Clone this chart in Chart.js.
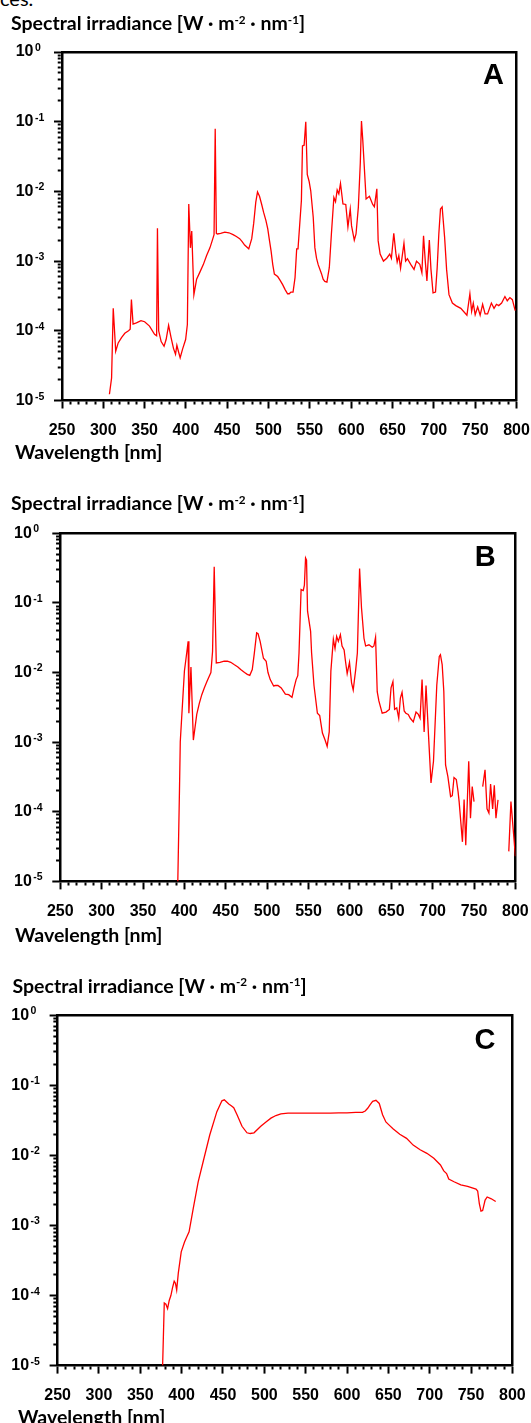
<!DOCTYPE html>
<html>
<head>
<meta charset="utf-8">
<script src="https://cdn.jsdelivr.net/npm/chart.js@4.4.0/dist/chart.umd.min.js"></script>
<style>
  html, body { margin: 0; padding: 0; background: #fff; overflow: hidden; }
  body { width: 531px; height: 1423px; position: relative; }
  .panel { position: absolute; left: 0; width: 531px; height: 480px; }
  .letter { position: absolute; font: bold 29px "Liberation Sans", Arial, sans-serif; line-height: 1; color: #000; }
  .axis-title { position: absolute; font: bold 19.5px Lato, sans-serif; line-height: 1.2; color: #000; white-space: nowrap; }
  .axis-title sup { font-size: 0.6em; vertical-align: 0; position: relative; top: -0.55em; }
  #snippet { position: absolute; left: 0; top: -12px; font: 20px Lato, sans-serif; line-height: 20px; color: #000; }
</style>
</head>
<body>
<div id="snippet">ces.</div>
<div class="panel" style="top:0px"><canvas id="chart-a" width="531" height="480"></canvas></div>
<div class="panel" style="top:478px"><canvas id="chart-b" width="531" height="480"></canvas></div>
<div class="panel" style="top:962px"><canvas id="chart-c" width="531" height="480"></canvas></div>

<div class="axis-title" style="left:11px; top:11.4px">Spectral irradiance [W · m<sup>-2</sup> · nm<sup>-1</sup>]</div>
<div class="axis-title" style="left:15px; top:439.7px">Wavelength [nm]</div>
<div class="axis-title" style="left:11px; top:491.4px">Spectral irradiance [W · m<sup>-2</sup> · nm<sup>-1</sup>]</div>
<div class="axis-title" style="left:15px; top:922.7px">Wavelength [nm]</div>
<div class="axis-title" style="left:12.5px; top:973.7px">Spectral irradiance [W · m<sup>-2</sup> · nm<sup>-1</sup>]</div>
<div class="axis-title" style="left:18px; top:1404.7px">Wavelength [nm]</div>

<div class="letter" style="left:483px; top:59.5px">A</div>
<div class="letter" style="left:474.7px; top:542.2px">B</div>
<div class="letter" style="left:474.4px; top:1025.4px">C</div>

<script>
// ticks
const xLabelTicks = [250, 300, 350, 400, 450, 500, 550, 600, 650, 700, 750, 800];
const xMinorStep = 10;
const yDecades = [-5, -4, -3, -2, -1, 0];
const yExponents = ['-5', '-4', '-3', '-2', '-1', '0'];

// panel A
const wavelengthA = [307.4, 310, 312, 315, 318, 322, 326, 330.5, 332.5, 334, 336, 340, 345.6, 350, 355.9, 362, 364.5, 365.5, 367,
  370, 373.5, 376, 379, 382, 384.9, 387.4, 389, 391, 393, 396, 399.6, 401.7, 403.4, 405.4, 407, 409.6, 412.9, 417, 421, 425,
  429, 431.7, 434, 435.4, 436.8, 438, 442, 447, 452, 457, 461, 465, 468, 471, 476, 479.6, 482, 484.5, 486.6, 489, 491.5, 494,
  496.8, 499, 501, 503, 505, 507, 511, 514, 517, 520, 523, 525, 527, 529.6, 532, 534, 535.6, 539.7, 541, 543, 545, 546.8, 549,
  551, 554, 556, 558, 560, 564, 566, 568, 570.6, 573.5, 576, 579, 581, 583, 585, 587, 590, 593.4, 596, 598.8, 600.4, 603.7,
  605.8, 608.6, 611, 612.4, 614, 618, 622, 626, 628, 631, 632.6, 635, 639, 643, 646.6, 648.6, 651.5, 654, 655.6, 657.6, 659.7,
  663.8, 665.8, 668, 672, 676, 679, 683, 685.5, 687.5, 689.6, 691.6, 694.5, 696.5, 699, 702, 704, 706, 708, 710, 713, 715.4,
  718.3, 722.4, 726.5, 732.6, 740, 743.6, 745.7, 747.7, 750, 753, 756, 759, 762, 765, 769.6, 772.8, 775.7, 778.5, 782, 786,
  788.8, 792, 795, 798.4];
const irradianceA = [1.23e-5, 2.1e-5, 2.1e-4, 5.1e-5, 6.7e-5, 8e-5, 9.2e-5, 1.0e-4, 1.05e-4, 2.8e-4, 1.25e-4, 1.3e-4, 1.4e-4,
  1.35e-4, 1.17e-4, 8.9e-5, 8.5e-5, 2.95e-3, 1.0e-4,
  7e-5, 6.0e-5, 7.5e-5, 1.2e-4, 8e-5, 5.6e-5, 4.6e-5, 6.2e-5, 5e-5, 4.1e-5, 5.5e-5, 7.5e-5, 1.23e-4, 6.6e-3, 1.55e-3, 2.7e-3,
  3.3e-4, 5.5e-4, 7e-4, 8.9e-4, 1.2e-3,
  1.55e-3, 1.95e-3, 2.4e-3, 7.9e-2, 2.5e-3, 2.45e-3, 2.5e-3, 2.6e-3, 2.55e-3, 2.4e-3, 2.25e-3, 2.1e-3, 1.9e-3, 1.7e-3, 1.5e-3,
  2.1e-3, 3.5e-3, 7e-3, 9.8e-3, 8.5e-3, 6.6e-3, 5e-3,
  3.8e-3, 2.9e-3, 2e-3, 1.4e-3, 9e-4, 6.5e-4, 6e-4, 5.3e-4, 4.6e-4, 3.9e-4, 3.4e-4, 3.4e-4, 3.6e-4, 3.6e-4, 5.8e-4, 1.5e-3,
  1.5e-3, 7.4e-3, 4.5e-2, 4.6e-2, 1.0e-1, 1.75e-2, 1.4e-2,
  1.02e-2, 4.3e-3, 1.56e-3, 1.1e-3, 8.9e-4, 6.6e-4, 5.5e-4, 5.1e-4, 5.0e-4, 8.1e-4, 2.45e-3, 8.2e-3, 7.1e-3, 1.05e-2, 9.2e-3,
  1.3e-2, 6.6e-3, 6.5e-3, 3.1e-3, 5.6e-3, 3.2e-3, 2.0e-3,
  2.45e-3, 5.9e-3, 2.6e-2, 1.02e-1, 5.4e-2, 7.8e-3, 8.5e-3, 6.5e-3, 6.0e-3, 1.09e-2, 1.95e-3, 1.26e-3, 1.0e-3, 1.1e-3, 1.26e-3,
  1.1e-3, 2.5e-3, 1.3e-3, 9.7e-4, 1.2e-3, 7.9e-4,
  1.8e-3, 1.0e-3, 1.08e-3, 9e-4, 7.6e-4, 1.0e-3, 9e-4, 6.8e-4, 2.3e-3, 1.0e-3, 5.2e-4, 2.0e-3, 7.6e-4, 3.5e-4, 3.6e-4, 8e-4,
  2.45e-3, 5.6e-3, 6.0e-3, 2.2e-3, 7.6e-4,
  3.3e-4, 2.5e-4, 2.3e-4, 2.1e-4, 1.67e-4, 3.4e-4, 1.9e-4, 2.5e-4, 1.7e-4, 2.2e-4, 1.67e-4, 2.4e-4, 1.75e-4, 1.75e-4, 2.5e-4,
  2.1e-4, 2.4e-4, 2.3e-4, 2.5e-4, 3.1e-4,
  2.7e-4, 3.0e-4, 2.8e-4, 1.95e-4];

// panel B (null = gap in the trace)
const wavelengthB = [392, 394, 395, 400, 403, 404.5, 405.4, 407.9, 410.8, 414.9, 418, 421, 424, 427.2, 430, 432, 434, 436, 438.5,
  443, 448, 452, 456, 460, 464.6, 468, 472.7, 476, 479, 482, 484.5, 487.3, 489, 491.5, 495.5, 498.8, 501, 503.7, 507.8, 510,
  513, 517, 522, 526, 530, 532.5, 535, 537, 538.5, 541, 543.6, 545, 546.4, 547.6, 548.8, 552.5, 553.7, 556.6, 560.7, 563.5,
  566.8, 570, 572.5, 575, 577, 580, 582, 584, 586, 588.5, 590.5, 593, 594.5, 596.7, 599.5, 602, 604, 607, 609, 611.7, 614,
  617, 619, 623, 627, 629, 631, 633, 635, 639, 643.6, 647.7, 649.7, 652, 654, 656.6, 659, 661, 663, 665.6, 667.6, 670.5, 673,
  676.6, 679.9, 682.7, 684.8, 687.2, 689.7, 692, 695, 698, 701, 705, 708, 709.4, 711.5, 713.5, 715.6, 718.4, 721.7, 723.7,
  725.8, 728.6, 730.7, 732, 736, 738, 740, 743.6, 745.7, 747.8, 750, 751, 760.5, 763.3, 765.7, 768, 770, 772.5, 774.5, 776.5,
  779, 780, 792, 794.6, 800];
const irradianceB = [1e-5, 1.95e-4, 1.02e-3, 1.05e-2, 2.0e-2, 2.8e-2, 2.6e-3, 1.2e-2, 1.07e-3, 2.5e-3, 3.6e-3, 4.8e-3, 6e-3,
  7.4e-3, 8.8e-3, 1.0e-2, 2.0e-2, 0.33, 1.37e-2,
  1.4e-2, 1.45e-2, 1.45e-2, 1.4e-2, 1.3e-2, 1.2e-2, 1.1e-2, 1.0e-2, 9.4e-3, 9.1e-3, 1.1e-2, 1.9e-2, 3.7e-2, 3.6e-2, 2.8e-2,
  1.6e-2, 1.45e-2, 1.0e-2, 7.9e-3, 6.4e-3, 6.5e-3,
  6.5e-3, 6.0e-3, 4.9e-3, 4.8e-3, 4.4e-3, 6.0e-3, 7.9e-3, 9.0e-3, 1.9e-2, 0.155, 0.15, 0.18, 0.44, 0.41, 7.6e-2, 3.9e-2, 1.9e-2,
  6.5e-3, 2.6e-3, 2.4e-3,
  1.35e-3, 1.07e-3, 8.7e-4, 1.4e-3, 1.05e-2, 3.0e-2, 2.2e-2, 3.3e-2, 2.8e-2, 3.5e-2, 2.4e-2, 2.1e-2, 1.5e-2, 9.6e-3, 1.4e-2,
  7.1e-3, 5.6e-3, 1.1e-2, 1.9e-2, 0.31, 8.5e-2,
  3.1e-2, 2.4e-2, 2.5e-2, 2.3e-2, 2.4e-2, 3.2e-2, 5.3e-3, 3.9e-3, 2.6e-3, 2.7e-3, 2.95e-3, 6.0e-3, 7.4e-3, 2.95e-3, 3.1e-3,
  2.2e-3, 4.3e-3, 5.2e-3, 2.8e-3, 2.6e-3, 2.5e-3, 2.2e-3,
  1.95e-3, 2.7e-3, 2.5e-3, 2.2e-3, 7.9e-3, 1.4e-3, 6.5e-3, 1.25e-3, 2.6e-4, 5.3e-4, 6.6e-3, 1.7e-2, 1.8e-2, 1.3e-2, 5.3e-3,
  4.7e-4, 3.2e-4, 1.65e-4, 1.7e-4,
  3.1e-4, 2.9e-4, 1.95e-4, 1.4e-4, 3.7e-5, 1.5e-4, 3.3e-5, 5.3e-4, 8.1e-5, 2.3e-4, 1.4e-4, null, 2.3e-4, 4.0e-4, 1.1e-4, 9.6e-5,
  2.5e-4, 1.1e-4, 2.4e-4, 8.1e-5,
  1.48e-4, null, 2.7e-5, 1.4e-4, 2.3e-5];

// panel C
const wavelengthC = [377, 379, 381, 383, 385, 387, 389, 391, 392.5, 394, 396, 399.5, 403.5, 406, 409, 414, 420, 426, 434, 442.6,
  448.7, 451.6, 457, 460, 463, 467, 473, 479, 483, 487.5, 495.7, 502, 508, 514, 520, 528.6, 540, 549, 560, 569.5, 580, 590,
  600, 610.5, 618.7, 622, 625, 628, 631, 635, 639, 643, 647, 651, 655.6, 663.8, 672, 680, 688.4, 696.6, 705, 713, 717, 720.4,
  723, 729.4, 737.6, 745.8, 756, 758, 760, 762, 764, 767, 769.5, 774.5, 779.8];
const irradianceC = [1e-5, 7.8e-5, 7.5e-5, 6.5e-5, 8.5e-5, 1.0e-4, 1.3e-4, 1.6e-4, 1.5e-4, 1.2e-4, 2.1e-4, 4.2e-4, 5.8e-4,
  6.8e-4, 8.1e-4, 1.74e-3, 4.2e-3, 8.1e-3, 1.95e-2, 4.2e-2,
  6.0e-2, 6.2e-2, 5.4e-2, 5.1e-2, 4.8e-2, 3.8e-2, 2.6e-2, 2.1e-2, 2.05e-2, 2.1e-2, 2.6e-2, 3.0e-2, 3.4e-2, 3.7e-2, 3.9e-2,
  4.0e-2, 4.0e-2, 4.0e-2, 4.0e-2, 4.0e-2, 4.0e-2, 4.05e-2,
  4.05e-2, 4.1e-2, 4.1e-2, 4.3e-2, 4.7e-2, 5.3e-2, 5.9e-2, 6.1e-2, 5.5e-2, 3.8e-2, 3.0e-2, 2.7e-2, 2.4e-2, 2.0e-2, 1.75e-2,
  1.4e-2, 1.2e-2, 1.07e-2, 9.1e-3, 7.3e-3, 6.0e-3, 5.5e-3,
  4.6e-3, 4.2e-3, 3.8e-3, 3.6e-3, 3.3e-3, 3.1e-3, 2.05e-3, 1.6e-3, 1.63e-3, 2.3e-3, 2.55e-3, 2.4e-3, 2.2e-3];

// where each plot box sits inside its 531x480 canvas
const panelA = {left: 62, right: 516.5, chartTop: 52, chartBottom: 400.5};
const panelB = {left: 60.3, right: 515.4, chartTop: 55.2, chartBottom: 403.4};
const panelC = {left: 57.6, right: 512.4, chartTop: 53.2, chartBottom: 403.6};

const canvasH = 480;
const tickLen = 8;
const yLabelPad = 20.5;
const tickFont = {family: '"Liberation Sans", Arial, sans-serif', size: 16, weight: 'bold'};
// tall line box pushes the x labels down without adding side padding
const xTickFont = {family: '"Liberation Sans", Arial, sans-serif', size: 16, weight: 'bold', lineHeight: 2.75};
const frame = {display: true, color: '#000', width: 2.5};

const isDecade = (v) => Math.abs(Math.log10(v) - Math.round(Math.log10(v))) < 1e-9;

// draws the small raised exponent after each "10" on the y axis
const exponentPlugin = {
    id: 'exponents',
    afterDraw(chart) {
        const scale = chart.scales.y;
        const ctx = chart.ctx;
        const x = scale.right - tickLen - yLabelPad + 1.5;
        ctx.save();
        ctx.fillStyle = '#000';
        ctx.font = 'bold 10.5px "Liberation Sans", Arial, sans-serif';
        ctx.textAlign = 'left';
        ctx.textBaseline = 'alphabetic';
        yDecades.forEach((d, i) => {
            const y = scale.getPixelForValue(Math.pow(10, d));
            ctx.fillText(yExponents[i], x, y - 1);
        });
        ctx.restore();
    }
};

function buildChart(id, panel, wavelengths, values) {
    const points = wavelengths.map((w, i) => ({x: w, y: values[i]}));
    return new Chart(document.getElementById(id), {
        type: 'line',
        data: {
            datasets: [{
                data: points,
                xAxisID: 'x',
                yAxisID: 'y',
                borderColor: '#ff0000',
                borderWidth: 1.3,
                pointRadius: 0,
                tension: 0,
                spanGaps: false
            }]
        },
        plugins: [exponentPlugin],
        options: {
            responsive: false,
            animation: false,
            events: [],
            layout: {padding: 0},
            plugins: {
                legend: {display: false},
                tooltip: {enabled: false}
            },
            scales: {
                x: {
                    type: 'linear', position: 'bottom', min: 250, max: 800,
                    afterBuildTicks: (scale) => {
                        const ticks = [];
                        for (let v = 250; v <= 800; v += xMinorStep) ticks.push({value: v});
                        scale.ticks = ticks;
                    },
                    afterFit: (scale) => { scale.height = canvasH - panel.chartBottom; },
                    ticks: {
                        autoSkip: false, maxRotation: 0, padding: 0, color: '#000', font: xTickFont,
                        callback: (v) => xLabelTicks.includes(v) ? String(v) : ''
                    },
                    grid: {
                        drawOnChartArea: false, tickLength: tickLen, tickWidth: 2, tickColor: '#000',
                        tickBorderDash: (ctx) => (ctx.tick && xLabelTicks.includes(ctx.tick.value)) ? [] : [3, 50]
                    },
                    border: frame
                },
                y: {
                    type: 'logarithmic', position: 'left', min: 1e-5, max: 1,
                    afterBuildTicks: (scale) => {
                        const ticks = [];
                        yDecades.forEach((d) => {
                            const base = Math.pow(10, d);
                            if (d === 0) { ticks.push({value: 1}); return; }
                            for (let m = 1; m <= 9; m++) ticks.push({value: m * base});
                        });
                        scale.ticks = ticks;
                    },
                    afterFit: (scale) => { scale.width = panel.left; },
                    ticks: {
                        autoSkip: false, padding: yLabelPad, color: '#000', font: tickFont,
                        callback: (v) => isDecade(v) ? '10' : ''
                    },
                    grid: {
                        drawOnChartArea: false, tickLength: tickLen, tickWidth: 2, tickColor: '#000',
                        tickBorderDash: (ctx) => (ctx.tick && isDecade(ctx.tick.value)) ? [] : [0, 3.75, 3, 50]
                    },
                    border: frame
                },
                xTop: {
                    type: 'linear', position: 'top', min: 250, max: 800,
                    afterFit: (scale) => { scale.height = panel.chartTop; },
                    ticks: {display: false},
                    grid: {display: false, drawTicks: false},
                    border: frame
                },
                yRight: {
                    type: 'linear', position: 'right', min: 0, max: 1,
                    afterFit: (scale) => { scale.width = 531 - panel.right; },
                    ticks: {display: false},
                    grid: {display: false, drawTicks: false},
                    border: frame
                }
            }
        }
    });
}

buildChart('chart-a', panelA, wavelengthA, irradianceA);
buildChart('chart-b', panelB, wavelengthB, irradianceB);
buildChart('chart-c', panelC, wavelengthC, irradianceC);
</script>
</body>
</html>
